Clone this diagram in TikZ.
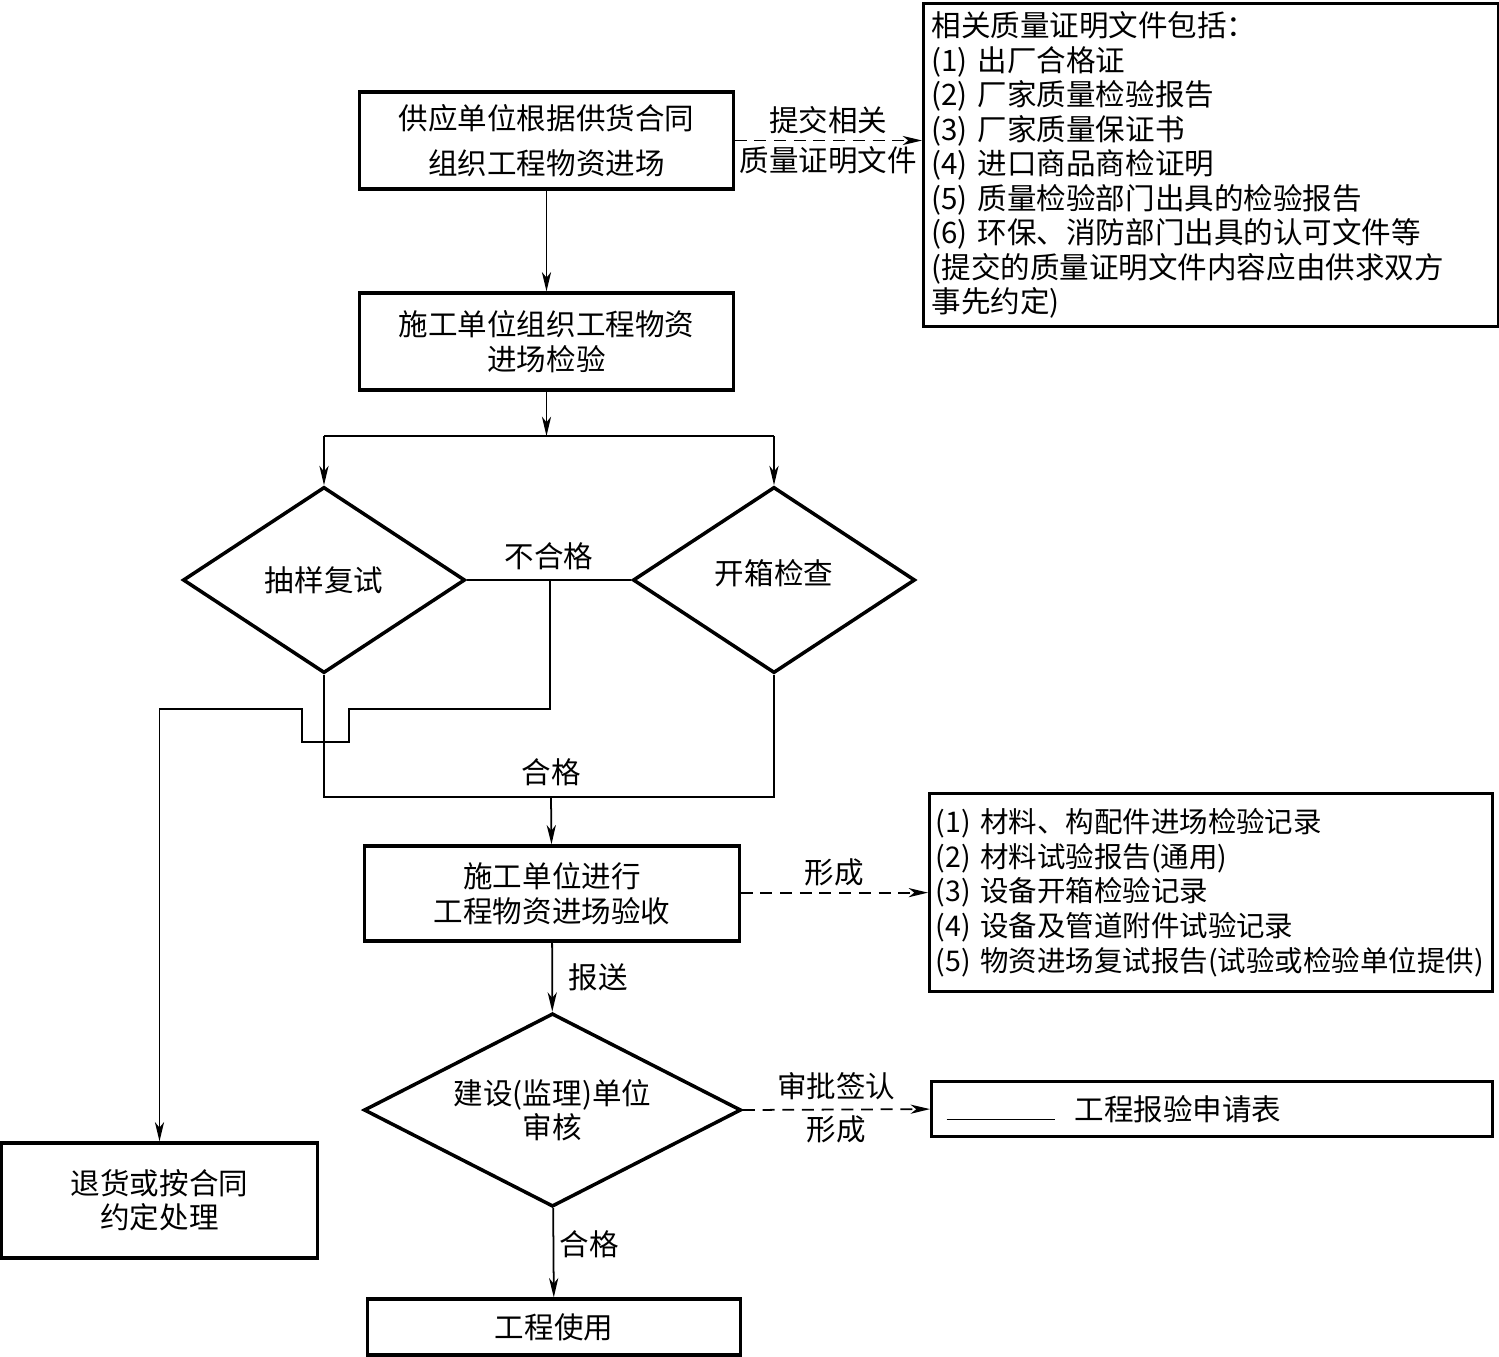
\documentclass[tikz,border=0pt]{standalone}
\usepackage{fontspec}
\setmainfont{Noto Sans CJK SC}
\usetikzlibrary{arrows.meta,shapes.geometric}
\tikzset{
  box/.style={draw,line width=0.9pt,inner sep=0pt,align=center},
  decision/.style={draw,diamond,aspect=1.5,line width=1pt,inner sep=0pt,align=center},
  listbox/.style={draw,line width=0.9pt,align=left,inner ysep=0pt},
  flow/.style={line width=0.5pt},
  submit/.style={line width=0.5pt,dash pattern=on 3.4pt off 2.2pt},
  tag/.style={inner sep=1.5pt}
}

\begin{document}
\begin{tikzpicture}[line join=miter,>={Stealth[length=5.5pt,width=2.6pt,inset=1.6pt]},x=0.01cm,y=-0.01cm,font=\fontsize{8.4}{9.8}\selectfont]
                \useasboundingbox (0,0) rectangle (1499,1357);
                \node[box,minimum width=3.73cm,minimum height=0.97cm] (supply) at (546.5,140.5) {供应单位根据供货合同\\[3pt]组织工程物资进场};
                \node[box,minimum width=3.73cm,minimum height=0.97cm] (inspect) at (546.5,341.5) {施工单位组织工程物资\\进场检验};
                \node[decision,minimum width=2.82cm,minimum height=1.86cm] (resample) at (324,580) {抽样复试};
                \node[decision,minimum width=2.82cm,minimum height=1.86cm] (unbox) at (774,580) {\raisebox{0.16cm}{开箱检查}};
                \node[box,minimum width=3.74cm,minimum height=0.95cm] (accept) at (552,893.5) {施工单位进行\\工程物资进场验收};
                \node[decision,minimum width=3.77cm,minimum height=1.74cm] (review) at (552.5,1110) {建设(监理)单位\\审核};
                \node[box,minimum width=3.72cm,minimum height=0.56cm] (use) at (554,1327) {工程使用};
                \node[box,minimum width=3.15cm,minimum height=1.15cm] (reject) at (159.5,1200.5) {退货或按合同\\约定处理};
                \node[listbox,anchor=north west,inner xsep=0.08cm,text width=5.59cm,minimum height=3.23cm] (docs) at (922,2) {相关质量证明文件包括：\\
                (1)~出厂合格证\\
                (2)~厂家质量检验报告\\
                (3)~厂家质量保证书\\
                (4)~进口商品商检证明\\
                (5)~质量检验部门出具的检验报告\\
                (6)~环保、消防部门出具的认可文件等\\
                (提交的质量证明文件内容应由供求双方\\
                事先约定)};
                \node[listbox,anchor=north west,inner xsep=0.06cm,text width=5.51cm,minimum height=1.98cm,font=\fontsize{8.1}{9.9}\selectfont] (records) at (928,792) {(1)~材料、构配件进场检验记录\\
                (2)~材料试验报告(通用)\\
                (3)~设备开箱检验记录\\
                (4)~设备及管道附件试验记录\\
                (5)~物资进场复试报告(试验或检验单位提供)};
                \node[listbox,anchor=north west,inner xsep=0.15cm,text width=5.31cm,minimum height=0.55cm] (form) at (930,1080) {\rule{1.08cm}{0.5pt}\hspace{0.2cm}工程报验申请表};
                \coordinate (split) at (546.5,436);
                \coordinate (fail) at (550,580);
                \coordinate (pass) at (551,797);
                \draw [flow,->] (supply) -- (inspect);
                \draw [flow,->] (inspect) -- (split);
                \draw [flow] (resample.north |- split) -- (unbox.north |- split);
                \draw [flow,->] (resample.north |- split) -- (resample.north);
                \draw [flow,->] (unbox.north |- split) -- (unbox.north);
                \draw [flow] (resample.east) -- (unbox.west) node[tag,pos=0.5,above=1pt] (faillabel) {不合格};
                \draw [flow,->] (fail) -- (550,709) -- (349,709) -- (349,742) -- (302,742) -- (302,709) -- (reject.north |- 0,709) -- (reject.north);
                \draw [flow] (resample.south) |- (pass) -| (unbox.south);
                \node[tag,above=1.5pt] (passlabel) at (pass) {合格};
                \draw [flow,->] (pass) -- (accept);
                \draw [submit,->] (supply.east) -- (supply.east -| docs.west) node[tag,pos=0.5,above] (submitlabel) {提交相关} node[tag,pos=0.5,below] (submitlabelb) {质量证明文件};
                \draw [submit,->] (accept.east |- records.west) -- (records.west) node[tag,pos=0.5,above] (formlabel) {形成};
                \draw [flow,->] (accept) -- (review) node[tag,pos=0.5,right=3pt] (sendlabel) {报送};
                \draw [submit,->] (review.east) -- (form.west) node[tag,pos=0.5,above=1pt] (approvelabel) {审批签认} node[tag,pos=0.5,below] (approvelabelb) {形成};
                \draw [flow,->] (review) -- (use) node[tag,pos=0.4,right] (oklabel) {合格};
\end{tikzpicture}
\end{document}
